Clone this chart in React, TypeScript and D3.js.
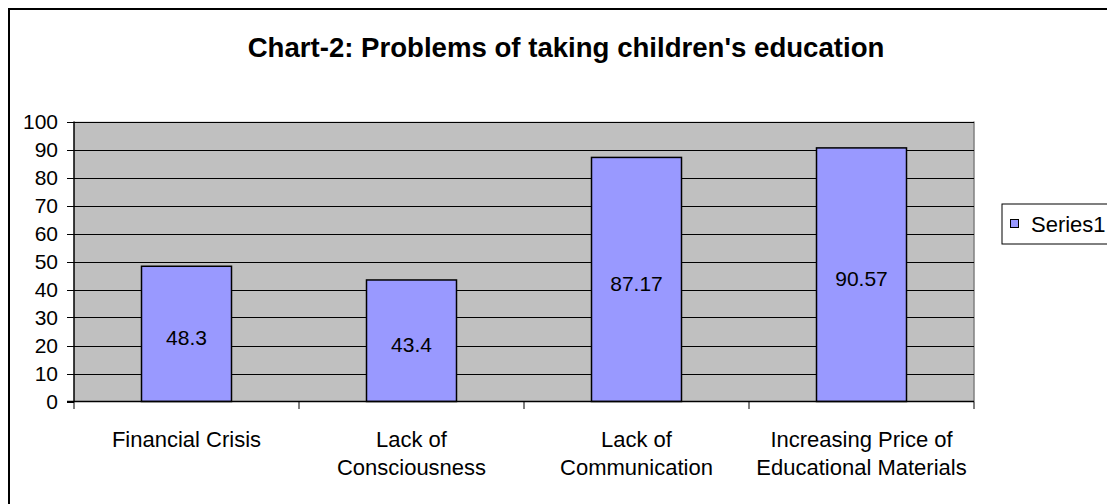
import React from "react";
import * as d3 from "d3";

const categories: string[][] = [
  ["Financial Crisis"],
  ["Lack of", "Consciousness"],
  ["Lack of", "Communication"],
  ["Increasing Price of", "Educational Materials"],
];
const series1: number[] = [48.3, 43.4, 87.17, 90.57];
const yTicks: number[] = [0, 10, 20, 30, 40, 50, 60, 70, 80, 90, 100];
const title = "Chart-2: Problems of taking children's education";
const seriesName = "Series1";

const FONT = "'Liberation Sans', Arial, sans-serif";

export default function App() {
  const W = 1107, H = 504;
  const left = 74, right = 974, top = 121.5, bottom = 401.5;
  const x = d3.scaleBand<number>().domain(categories.map((_, i) => i)).range([left, right]).paddingInner(0.6).paddingOuter(0.3);
  const xOuter = d3.scaleBand<number>().domain(categories.map((_, i) => i)).range([left, right]);
  const y = d3.scaleLinear().domain([0, 100]).range([bottom, top]);

  return (
    <svg width={W} height={H} style={{ position: "absolute", left: 0, top: 0, background: "#fff" }} fontFamily={FONT}>
      <rect x={9} y={9} width={1200} height={600} fill="#fff" stroke="#000" strokeWidth={2} />
      <text x={566} y={57} textAnchor="middle" fontSize={27.6} fontWeight="bold">{title}</text>
      <rect x={left} y={top} width={right - left} height={bottom - top} fill="#C0C0C0" />
      <line x1={right} x2={right} y1={top} y2={bottom} stroke="#808080" strokeWidth={1.5} />
      {yTicks.map((t) => (
        <g key={t}>
          {t > 0 && <line x1={left} x2={right} y1={Math.round(y(t)) + 0.5} y2={Math.round(y(t)) + 0.5} stroke="#000" strokeWidth={1} />}
          <line x1={67} x2={left} y1={Math.round(y(t)) + 0.5} y2={Math.round(y(t)) + 0.5} stroke="#000" strokeWidth={1} />
          <text x={58} y={y(t)} dy="0.36em" textAnchor="end" fontSize={21}>{t}</text>
        </g>
      ))}
      {series1.map((v, i) => (
        <g key={i}>
          <rect x={x(i)} y={y(v)} width={x.bandwidth()} height={bottom - y(v)} fill="#9999FF" stroke="#000" strokeWidth={1.5} />
          <text x={(x(i) as number) + x.bandwidth() / 2} y={(y(v) + bottom) / 2 + 4} dy="0.36em" textAnchor="middle" fontSize={21}>{v}</text>
        </g>
      ))}
      <line x1={left} x2={left} y1={top} y2={bottom} stroke="#000" strokeWidth={1.5} />
      <line x1={67} x2={right} y1={bottom} y2={bottom} stroke="#000" strokeWidth={1.5} />
      {categories.map((_, i) => (
        <line key={"t" + i} x1={xOuter(i)} x2={xOuter(i)} y1={bottom} y2={409} stroke="#000" strokeWidth={1} />
      ))}
      <line x1={right} x2={right} y1={bottom} y2={409} stroke="#000" strokeWidth={1} />
      {categories.map((lines, i) => (
        <text key={"c" + i} textAnchor="middle" fontSize={22}>
          {lines.map((ln, j) => (
            <tspan key={j} x={(xOuter(i) as number) + xOuter.bandwidth() / 2} y={446.5 + j * 28}>{ln}</tspan>
          ))}
        </text>
      ))}
      <rect x={1002} y={204} width={200} height={40} fill="#fff" stroke="#000" strokeWidth={1} />
      <rect x={1010.5} y={219.5} width={8} height={8} fill="#9999FF" stroke="#000" strokeWidth={1} />
      <text x={1031} y={231.5} fontSize={22}>{seriesName}</text>
    </svg>
  );
}
